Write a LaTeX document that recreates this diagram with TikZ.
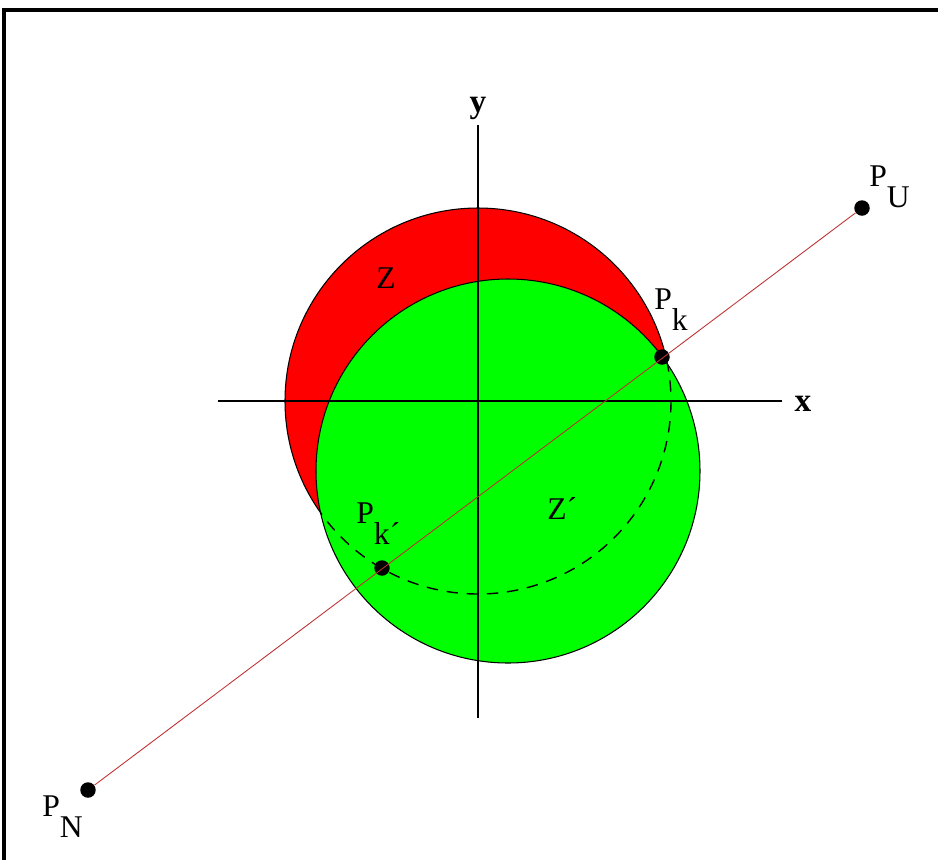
\documentclass[tikz,border=0pt]{standalone}
\usepackage{fontspec}
\setmainfont{Liberation Serif}
\usepackage{tikz}
\usetikzlibrary{positioning,calc}
\definecolor{zred}{RGB}{255,0,0}
\definecolor{zgreen}{RGB}{0,255,0}
\definecolor{linered}{RGB}{190,50,50}
\newcommand{\lowsub}[1]{\raisebox{-12.5pt}{#1}}

\begin{document}
\begin{tikzpicture}[x=0.02cm, y=-0.02cm,
    lbl/.style={inner sep=0, anchor=base west, font=\fontsize{18}{20}\selectfont},
    axlbl/.style={inner sep=0, anchor=base, font=\fontsize{19}{21}\selectfont\bfseries},
    pt/.style={circle, fill=black, inner sep=0, minimum size=0.31cm},
    axis/.style={line width=1.1pt},
    frame/.style={line width=1.8pt}]
    \useasboundingbox (0,0) rectangle (938,860);

    % Frame
    \draw[frame] (4,860) -- (4,10) -- (938,10);

    % Disc Z and disc Z'
    \draw[fill=zred, line width=0.6pt] (478,401) circle[radius=193];
    \draw[fill=zgreen, line width=0.6pt] (508,471) circle[radius=192];
    \begin{scope}
        \clip (508,471) circle[radius=192];
        \draw[line width=0.8pt, dash pattern=on 6.5pt off 5pt] (478,401) circle[radius=193];
    \end{scope}

    % Axes
    \coordinate (xl) at (218,401);
    \coordinate (xr) at (782,401);
    \coordinate (yt) at (478,125);
    \coordinate (yb) at (478,718);
    \draw[axis] (xl) -- (xr);
    \draw[axis] (yt) -- (yb);
    \node[axlbl] (xlab) at (803,411) {x};
    \node[axlbl] (ylab) at (478,112) {y};

    % Points
    \node[pt] (pn) at (88,790) {};
    \node[pt] (pu) at (862,208) {};
    \node[pt] (pk) at (662,357) {};
    \node[pt] (pkk) at (382,568) {};
    \draw[linered, line width=0.5pt] (pn) -- (pu);

    % Labels
    \node[lbl] (lu) at (869,186) {P\lowsub{U}};
    \node[lbl] (lk) at (654,309) {P\lowsub{k}};
    \node[lbl] (lkk) at (356,523) {P\lowsub{k´}};
    \node[lbl] (ln) at (42,816) {P\lowsub{N}};
    \node[lbl] (lz) at (376,288) {Z};
    \node[lbl] (lzz) at (547,519) {Z´};
\end{tikzpicture}
\end{document}
